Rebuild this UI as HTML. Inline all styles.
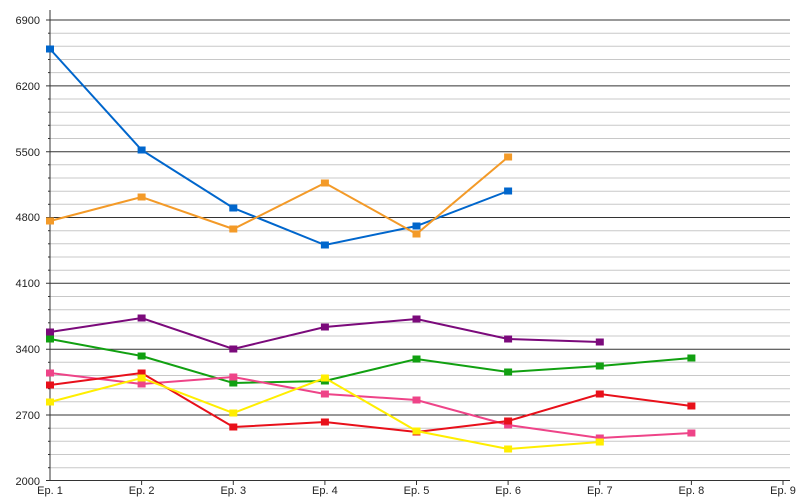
<!DOCTYPE html>
<html><head><meta charset="utf-8"><style>body{margin:0;background:#fff}svg{display:block;font-family:"Liberation Sans",sans-serif}</style></head>
<body>
<svg width="800" height="500" viewBox="0 0 800 500">
<g stroke="#c8c8c8" stroke-width="1">
<line x1="50" x2="790" y1="33.2" y2="33.2"/><line x1="50" x2="790" y1="46.3" y2="46.3"/><line x1="50" x2="790" y1="59.5" y2="59.5"/><line x1="50" x2="790" y1="72.6" y2="72.6"/>
<line x1="50" x2="790" y1="99" y2="99"/><line x1="50" x2="790" y1="112.2" y2="112.2"/><line x1="50" x2="790" y1="125.3" y2="125.3"/><line x1="50" x2="790" y1="138.5" y2="138.5"/>
<line x1="50" x2="790" y1="164.8" y2="164.8"/><line x1="50" x2="790" y1="178" y2="178"/><line x1="50" x2="790" y1="191.2" y2="191.2"/><line x1="50" x2="790" y1="204.3" y2="204.3"/>
<line x1="50" x2="790" y1="230.7" y2="230.7"/><line x1="50" x2="790" y1="243.8" y2="243.8"/><line x1="50" x2="790" y1="257" y2="257"/><line x1="50" x2="790" y1="270.2" y2="270.2"/>
<line x1="50" x2="790" y1="296.5" y2="296.5"/><line x1="50" x2="790" y1="309.7" y2="309.7"/><line x1="50" x2="790" y1="322.8" y2="322.8"/><line x1="50" x2="790" y1="336" y2="336"/>
<line x1="50" x2="790" y1="362.3" y2="362.3"/><line x1="50" x2="790" y1="375.5" y2="375.5"/><line x1="50" x2="790" y1="388.7" y2="388.7"/><line x1="50" x2="790" y1="401.8" y2="401.8"/>
<line x1="50" x2="790" y1="428.2" y2="428.2"/><line x1="50" x2="790" y1="441.3" y2="441.3"/><line x1="50" x2="790" y1="454.5" y2="454.5"/><line x1="50" x2="790" y1="467.7" y2="467.7"/>
</g>
<g stroke="#333" stroke-width="1">
<line x1="48" x2="50" y1="33.2" y2="33.2"/><line x1="48" x2="50" y1="46.3" y2="46.3"/><line x1="48" x2="50" y1="59.5" y2="59.5"/><line x1="48" x2="50" y1="72.6" y2="72.6"/>
<line x1="48" x2="50" y1="99" y2="99"/><line x1="48" x2="50" y1="112.2" y2="112.2"/><line x1="48" x2="50" y1="125.3" y2="125.3"/><line x1="48" x2="50" y1="138.5" y2="138.5"/>
<line x1="48" x2="50" y1="164.8" y2="164.8"/><line x1="48" x2="50" y1="178" y2="178"/><line x1="48" x2="50" y1="191.2" y2="191.2"/><line x1="48" x2="50" y1="204.3" y2="204.3"/>
<line x1="48" x2="50" y1="230.7" y2="230.7"/><line x1="48" x2="50" y1="243.8" y2="243.8"/><line x1="48" x2="50" y1="257" y2="257"/><line x1="48" x2="50" y1="270.2" y2="270.2"/>
<line x1="48" x2="50" y1="296.5" y2="296.5"/><line x1="48" x2="50" y1="309.7" y2="309.7"/><line x1="48" x2="50" y1="322.8" y2="322.8"/><line x1="48" x2="50" y1="336" y2="336"/>
<line x1="48" x2="50" y1="362.3" y2="362.3"/><line x1="48" x2="50" y1="375.5" y2="375.5"/><line x1="48" x2="50" y1="388.7" y2="388.7"/><line x1="48" x2="50" y1="401.8" y2="401.8"/>
<line x1="48" x2="50" y1="428.2" y2="428.2"/><line x1="48" x2="50" y1="441.3" y2="441.3"/><line x1="48" x2="50" y1="454.5" y2="454.5"/><line x1="48" x2="50" y1="467.7" y2="467.7"/>
<line x1="46" x2="790" y1="20" y2="20"/><line x1="46" x2="790" y1="85.9" y2="85.9"/><line x1="46" x2="790" y1="151.7" y2="151.7"/><line x1="46" x2="790" y1="217.5" y2="217.5"/><line x1="46" x2="790" y1="283.3" y2="283.3"/><line x1="46" x2="790" y1="349.2" y2="349.2"/><line x1="46" x2="790" y1="415" y2="415"/>
<line x1="50" x2="50" y1="10" y2="481"/><line x1="46" x2="790" y1="480.5" y2="480.5"/>
<line x1="141.6" x2="141.6" y1="480" y2="485"/><line x1="233.3" x2="233.3" y1="480" y2="485"/><line x1="324.9" x2="324.9" y1="480" y2="485"/><line x1="416.5" x2="416.5" y1="480" y2="485"/><line x1="508.1" x2="508.1" y1="480" y2="485"/><line x1="599.8" x2="599.8" y1="480" y2="485"/><line x1="691.4" x2="691.4" y1="480" y2="485"/><line x1="783" x2="783" y1="480" y2="485"/>
</g>
<g font-size="11" fill="#222" text-anchor="end">
<text x="40" y="24">6900</text><text x="40" y="90">6200</text><text x="40" y="156">5500</text><text x="40" y="221">4800</text><text x="40" y="287">4100</text><text x="40" y="353">3400</text><text x="40" y="419">2700</text><text x="40" y="485">2000</text>
</g>
<g font-size="11" fill="#222" text-anchor="middle">
<text x="50" y="494">Ep. 1</text><text x="141.6" y="494">Ep. 2</text><text x="233.3" y="494">Ep. 3</text><text x="324.9" y="494">Ep. 4</text><text x="416.5" y="494">Ep. 5</text><text x="508.1" y="494">Ep. 6</text><text x="599.8" y="494">Ep. 7</text><text x="691.4" y="494">Ep. 8</text><text x="783" y="494">Ep. 9</text>
</g>
<g fill="none" stroke-width="2">
<polyline stroke="#0066cc" points="50,49 141.6,150 233.3,208 324.9,245 416.5,226 508.1,191"/>
<polyline stroke="#f39a28" points="50,221 141.6,197 233.3,229 324.9,183 416.5,234 508.1,157"/>
<polyline stroke="#7b0a7b" points="50,332 141.6,318 233.3,349 324.9,327 416.5,319 508.1,339 599.8,342"/>
<polyline stroke="#11a011" points="50,339 141.6,356 233.3,383 324.9,381 416.5,359 508.1,372 599.8,366 691.4,358"/>
<polyline stroke="#ee4488" points="50,373 141.6,384 233.3,377 324.9,394 416.5,400 508.1,425 599.8,438 691.4,433"/>
<polyline stroke="#e8101a" points="50,385 141.6,373 233.3,427 324.9,422 416.5,432 508.1,421 599.8,394 691.4,406"/>
<polyline stroke="#ffee00" points="50,402 141.6,378 233.3,413 324.9,378 416.5,431 508.1,449 599.8,442"/>
</g>
<g fill="#0066cc"><rect x="46" y="45.5" width="8" height="7"/><rect x="137.6" y="146.5" width="8" height="7"/><rect x="229.3" y="204.5" width="8" height="7"/><rect x="320.9" y="241.5" width="8" height="7"/><rect x="412.5" y="222.5" width="8" height="7"/><rect x="504.1" y="187.5" width="8" height="7"/></g>
<g fill="#f39a28"><rect x="46" y="217.5" width="8" height="7"/><rect x="137.6" y="193.5" width="8" height="7"/><rect x="229.3" y="225.5" width="8" height="7"/><rect x="320.9" y="179.5" width="8" height="7"/><rect x="412.5" y="230.5" width="8" height="7"/><rect x="504.1" y="153.5" width="8" height="7"/></g>
<g fill="#7b0a7b"><rect x="46" y="328.5" width="8" height="7"/><rect x="137.6" y="314.5" width="8" height="7"/><rect x="229.3" y="345.5" width="8" height="7"/><rect x="320.9" y="323.5" width="8" height="7"/><rect x="412.5" y="315.5" width="8" height="7"/><rect x="504.1" y="335.5" width="8" height="7"/><rect x="595.8" y="338.5" width="8" height="7"/></g>
<g fill="#11a011"><rect x="46" y="335.5" width="8" height="7"/><rect x="137.6" y="352.5" width="8" height="7"/><rect x="229.3" y="379.5" width="8" height="7"/><rect x="320.9" y="377.5" width="8" height="7"/><rect x="412.5" y="355.5" width="8" height="7"/><rect x="504.1" y="368.5" width="8" height="7"/><rect x="595.8" y="362.5" width="8" height="7"/><rect x="687.4" y="354.5" width="8" height="7"/></g>
<g fill="#ee4488"><rect x="46" y="369.5" width="8" height="7"/><rect x="137.6" y="380.5" width="8" height="7"/><rect x="229.3" y="373.5" width="8" height="7"/><rect x="320.9" y="390.5" width="8" height="7"/><rect x="412.5" y="396.5" width="8" height="7"/><rect x="504.1" y="421.5" width="8" height="7"/><rect x="595.8" y="434.5" width="8" height="7"/><rect x="687.4" y="429.5" width="8" height="7"/></g>
<g fill="#e8101a"><rect x="46" y="381.5" width="8" height="7"/><rect x="137.6" y="369.5" width="8" height="7"/><rect x="229.3" y="423.5" width="8" height="7"/><rect x="320.9" y="418.5" width="8" height="7"/><rect x="412.5" y="428.5" width="8" height="7"/><rect x="504.1" y="417.5" width="8" height="7"/><rect x="595.8" y="390.5" width="8" height="7"/><rect x="687.4" y="402.5" width="8" height="7"/></g>
<g fill="#ffee00"><rect x="46" y="398.5" width="8" height="7"/><rect x="137.6" y="374.5" width="8" height="7"/><rect x="229.3" y="409.5" width="8" height="7"/><rect x="320.9" y="374.5" width="8" height="7"/><rect x="412.5" y="427.5" width="8" height="7"/><rect x="504.1" y="445.5" width="8" height="7"/><rect x="595.8" y="438.5" width="8" height="7"/></g>
</svg>
</body></html>
